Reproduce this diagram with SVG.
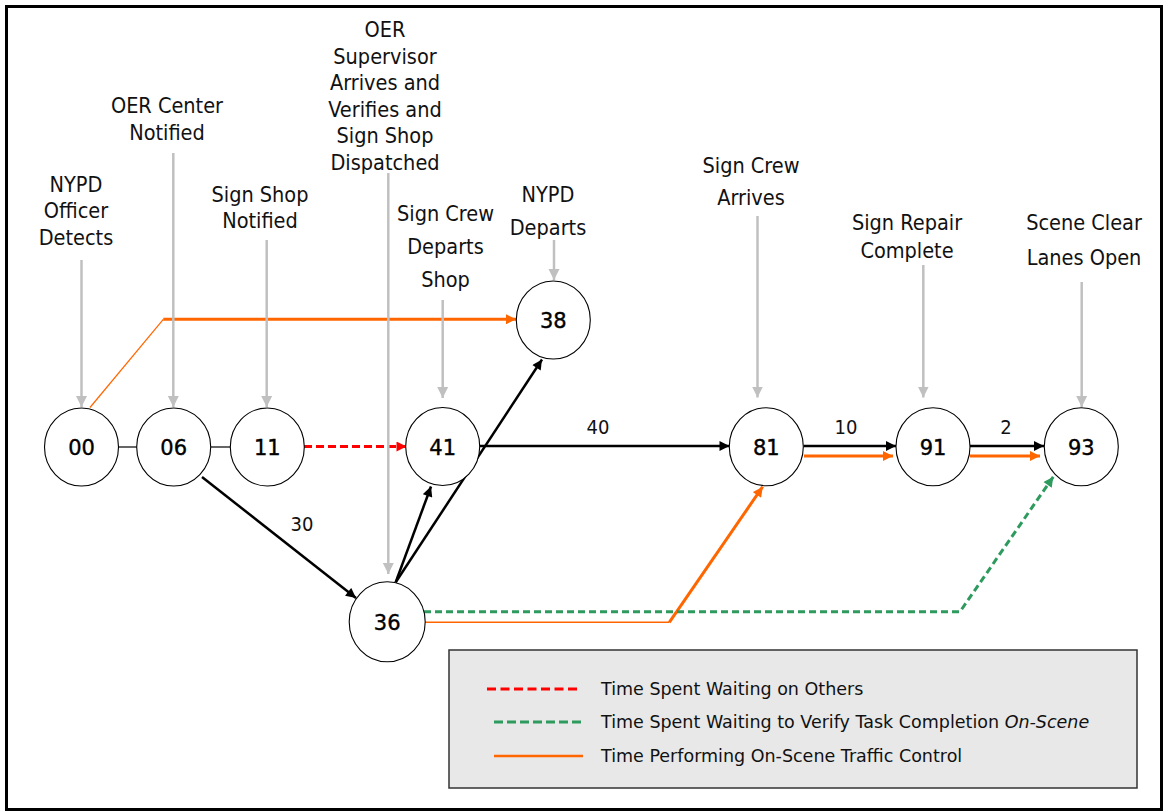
<svg xmlns="http://www.w3.org/2000/svg" width="1167" height="812" viewBox="0 0 1167 812">
<style>
.lbl{font-family:"DejaVu Sans Condensed","DejaVu Sans",sans-serif;font-size:21.5px;fill:#111;text-anchor:middle}
.num{font-family:"DejaVu Sans","Liberation Sans",sans-serif;font-size:21px;fill:#000;stroke:#000;stroke-width:0.4;text-anchor:middle}
.elbl{font-family:"DejaVu Sans Condensed","DejaVu Sans",sans-serif;font-size:20px;fill:#111;text-anchor:middle}
.leg{font-family:"DejaVu Sans","Liberation Sans",sans-serif;font-size:17.5px;fill:#111}
.node{fill:#fff;stroke:#000;stroke-width:1.1}
.gray{stroke:#c0c0c0;stroke-width:2.5;fill:none;marker-end:url(#mg)}
.blk{stroke:#000;stroke-width:2.5;fill:none;marker-end:url(#mb)}
.org{stroke:#ff6600;stroke-width:3;fill:none}
</style>
<defs>
<marker id="mg" viewBox="0 0 10 10" refX="10" refY="5" markerWidth="11" markerHeight="12" orient="auto" markerUnits="userSpaceOnUse"><path d="M0,0L10,5L0,10z" fill="#c0c0c0"/></marker>
<marker id="mb" viewBox="0 0 10 10" refX="10" refY="5" markerWidth="11" markerHeight="10" orient="auto" markerUnits="userSpaceOnUse"><path d="M0,0L10,5L0,10z" fill="#000"/></marker>
<marker id="mo" viewBox="0 0 10 10" refX="10" refY="5" markerWidth="11" markerHeight="10" orient="auto" markerUnits="userSpaceOnUse"><path d="M0,0L10,5L0,10z" fill="#ff6600"/></marker>
<marker id="mr" viewBox="0 0 10 10" refX="10" refY="5" markerWidth="11" markerHeight="10" orient="auto" markerUnits="userSpaceOnUse"><path d="M0,0L10,5L0,10z" fill="#ff0000"/></marker>
<marker id="mgr" viewBox="0 0 10 10" refX="10" refY="5" markerWidth="11" markerHeight="10" orient="auto" markerUnits="userSpaceOnUse"><path d="M0,0L10,5L0,10z" fill="#2e9a5e"/></marker>
</defs>
<rect x="0" y="0" width="1167" height="812" fill="#fff"/>
<rect x="6.5" y="6.5" width="1155" height="803" fill="none" stroke="#000" stroke-width="3"/>

<g id="connectors">
  <line x1="118" y1="447" x2="137" y2="447" stroke="#000" stroke-width="1.2"/>
  <line x1="211" y1="447" x2="231" y2="447" stroke="#000" stroke-width="1.2"/>
  <path d="M90,407.5 L163.3,319.3" stroke="#ff6600" stroke-width="1.2" fill="none"/>
  <path d="M163.3,319.3 L516,319.3" class="org" marker-end="url(#mo)"/>
  <path d="M424,622.3 L669.3,622.3" stroke="#ff6600" stroke-width="1.5" fill="none"/>
  <path d="M669.3,622.3 L762.7,486.7" class="org" marker-end="url(#mo)"/>
  <path d="M424,611.7 L960,611.7 L1053.3,476.7" stroke="#2e9a5e" stroke-width="3" stroke-dasharray="7,4" fill="none" marker-end="url(#mgr)"/>
  <path d="M304,446.5 L406.5,446.5" stroke="#ff0000" stroke-width="3" stroke-dasharray="8,4" fill="none" marker-end="url(#mr)"/>
  <path d="M202,477 L356,598" class="blk"/>
  <path d="M395.7,582.3 L431,486.5" class="blk"/>
  <path d="M395.7,582.3 L542,359.5" class="blk"/>
  <path d="M480,446 L729.5,446" class="blk"/>
  <path d="M803.5,446 L896,446" class="blk"/>
  <path d="M804,456 L893,456" class="org" marker-end="url(#mo)"/>
  <path d="M970,446 L1044,446" class="blk"/>
  <path d="M970,456 L1040,456" class="org" marker-end="url(#mo)"/>
  <path d="M81.5,260 L81.5,407" class="gray"/>
  <path d="M173.3,153 L173.3,407" class="gray"/>
  <path d="M266.7,240 L266.7,407" class="gray"/>
  <path d="M388.3,173 L388.3,574" class="gray"/>
  <path d="M442.7,300 L442.7,398" class="gray"/>
  <path d="M554,240 L554,280" class="gray"/>
  <path d="M757.5,216 L757.5,397.5" class="gray"/>
  <path d="M923.3,265 L923.3,397.5" class="gray"/>
  <path d="M1081.7,282 L1081.7,407" class="gray"/>
  <text class="elbl" x="302" y="531">30</text>
  <text class="elbl" x="598" y="434">40</text>
  <text class="elbl" x="846" y="434">10</text>
  <text class="elbl" x="1006" y="434">2</text>
</g>

<g id="lbl-00"><text class="lbl" x="76" y="191.7">NYPD</text><text class="lbl" x="76" y="218.3">Officer</text><text class="lbl" x="76" y="245">Detects</text></g>
<g id="lbl-06"><text class="lbl" x="167" y="113.3">OER Center</text><text class="lbl" x="167" y="140">Notified</text></g>
<g id="lbl-11"><text class="lbl" x="260" y="201.7">Sign Shop</text><text class="lbl" x="260" y="228.3">Notified</text></g>
<g id="lbl-36"><text class="lbl" x="385" y="37">OER</text><text class="lbl" x="385" y="63.6">Supervisor</text><text class="lbl" x="385" y="90.2">Arrives and</text><text class="lbl" x="385" y="116.8">Verifies and</text><text class="lbl" x="385" y="143.4">Sign Shop</text><text class="lbl" x="385" y="170">Dispatched</text></g>
<g id="lbl-41"><text class="lbl" x="445.5" y="220.5">Sign Crew</text><text class="lbl" x="445.5" y="254">Departs</text><text class="lbl" x="445.5" y="287.3">Shop</text></g>
<g id="lbl-38"><text class="lbl" x="548" y="201.7">NYPD</text><text class="lbl" x="548" y="235">Departs</text></g>
<g id="lbl-81"><text class="lbl" x="751" y="173.3">Sign Crew</text><text class="lbl" x="751" y="205">Arrives</text></g>
<g id="lbl-91"><text class="lbl" x="907" y="230">Sign Repair</text><text class="lbl" x="907" y="258.3">Complete</text></g>
<g id="lbl-93"><text class="lbl" x="1084" y="230">Scene Clear</text><text class="lbl" x="1084" y="265">Lanes Open</text></g>

<g id="node-00"><ellipse class="node" cx="81.5" cy="447" rx="37" ry="39"/><text class="num" x="81.5" y="455">00</text></g>
<g id="node-06"><ellipse class="node" cx="173.7" cy="447" rx="37" ry="39"/><text class="num" x="173.7" y="455">06</text></g>
<g id="node-11"><ellipse class="node" cx="267.3" cy="447" rx="37" ry="39"/><text class="num" x="267.3" y="455">11</text></g>
<g id="node-41"><ellipse class="node" cx="442.7" cy="446.5" rx="37" ry="39"/><text class="num" x="442.7" y="454.5">41</text></g>
<g id="node-38"><ellipse class="node" cx="553.3" cy="320" rx="37" ry="39"/><text class="num" x="553.3" y="328">38</text></g>
<g id="node-36"><ellipse class="node" cx="387.2" cy="621.8" rx="38" ry="40"/><text class="num" x="387.2" y="629.8">36</text></g>
<g id="node-81"><ellipse class="node" cx="766.3" cy="446.7" rx="37" ry="39"/><text class="num" x="766.3" y="454.7">81</text></g>
<g id="node-91"><ellipse class="node" cx="933" cy="446.7" rx="37" ry="39"/><text class="num" x="933" y="454.7">91</text></g>
<g id="node-93"><ellipse class="node" cx="1081.3" cy="446.7" rx="37" ry="39"/><text class="num" x="1081.3" y="454.7">93</text></g>

<g id="legend">
  <rect x="449" y="650" width="688" height="138" fill="#e8e8e8" stroke="#333" stroke-width="1.5"/>
  <line x1="487" y1="689" x2="580" y2="689" stroke="#ff0000" stroke-width="3" stroke-dasharray="9,4.5"/>
  <line x1="494" y1="722" x2="583" y2="722" stroke="#2e9a5e" stroke-width="3" stroke-dasharray="9,4"/>
  <line x1="494" y1="756" x2="583" y2="756" stroke="#ff6600" stroke-width="2.5"/>
  <text class="leg" x="601" y="695">Time Spent Waiting on Others</text>
  <text class="leg" x="601" y="728">Time Spent Waiting to Verify Task Completion <tspan font-style="italic">On-Scene</tspan></text>
  <text class="leg" x="601" y="762">Time Performing On-Scene Traffic Control</text>
</g>
</svg>
